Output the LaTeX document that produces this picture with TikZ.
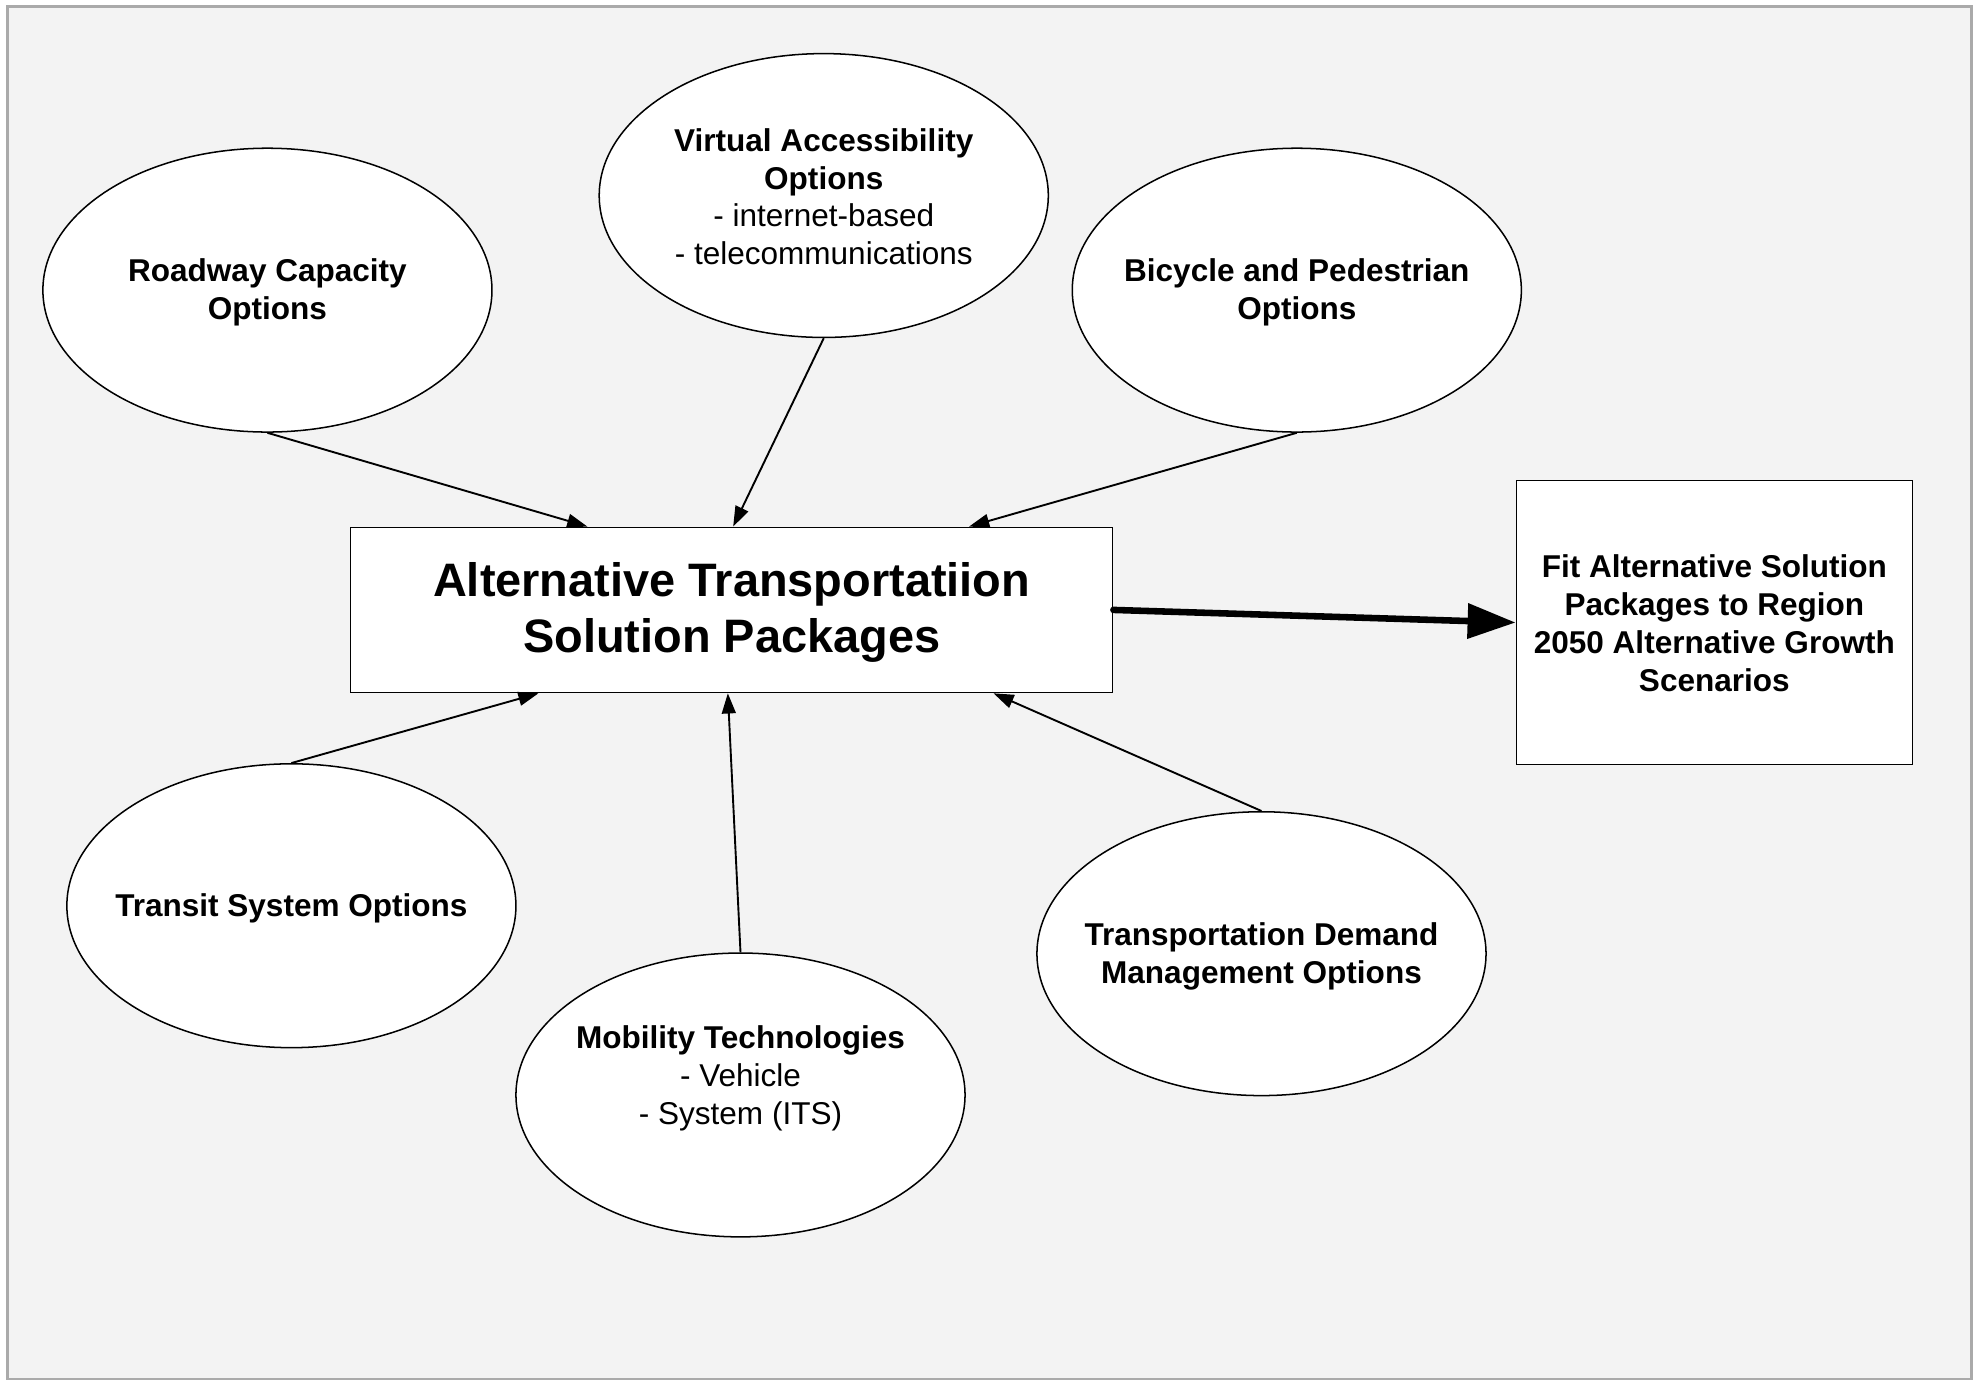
\documentclass[tikz,border=0pt]{standalone}
\usepackage{fontspec}
\setmainfont{Liberation Sans}
\usetikzlibrary{shapes.geometric,arrows.meta,calc}
\definecolor{bgc}{RGB}{243,243,243}
\definecolor{framec}{RGB}{170,170,170}
\begin{document}
\begin{tikzpicture}[x=0.5pt,y=-0.5pt,
  oval/.style={ellipse,draw,line width=0.6pt,fill=white,minimum width=178pt,minimum height=112.5pt,inner sep=0pt},
  lbl/.style={align=center,font=\fontsize{12.5}{15}\selectfont,inner sep=0pt},
  boxst/.style={draw,line width=0.6pt,fill=white,inner sep=0pt},
  conn/.style={line width=0.75pt,-{Triangle[length=8pt,width=5.5pt]}},
  bigconn/.style={line width=2.6pt,line cap=round,-{Triangle[length=19pt,width=13.5pt]}},
  ]
\useasboundingbox (0,0) rectangle (1568,1095);
\draw[fill=bgc,draw=framec,line width=1pt] (6,5) rectangle (1563,1093);

% ellipses
\node[oval] (road) at (212,230) {};
\node[lbl] (roadtxt) at (212,232) {\textbf{Roadway Capacity}\\\textbf{Options}};
\node[oval] (virt) at (653,155) {};
\node[lbl] (virttxt) at (653,156) {\textbf{Virtual Accessibility}\\\textbf{Options}\\- internet-based\\- telecommunications};
\node[oval] (bike) at (1028,230) {};
\node[lbl] (biketxt) at (1028,232) {\textbf{Bicycle and Pedestrian}\\\textbf{Options}};
\node[oval] (trans) at (231,718) {};
\node[lbl] (transtxt) at (231,720) {\textbf{Transit System Options}};
\node[oval] (mob) at (587,868) {};
\node[lbl] (mobtxt) at (587,855) {\textbf{Mobility Technologies}\\- Vehicle\\- System (ITS)};
\node[oval] (tdm) at (1000,756) {};
\node[lbl] (tdmtxt) at (1000,758) {\textbf{Transportation Demand}\\\textbf{Management Options}};

% boxes
\node[boxst,minimum width=302pt,minimum height=65.5pt] (main) at (580,483.5) {};
\node[align=center,inner sep=0pt,font=\fontsize{18.6}{22.5}\selectfont\bfseries] (maintxt) at (580,485.5) {Alternative Transportatiion\\Solution Packages};
\node[boxst,minimum width=157pt,minimum height=112.5pt] (fit) at (1359,493.5) {};
\node[lbl,font=\fontsize{12.5}{15}\selectfont\bfseries] (fittxt) at (1359,494) {Fit Alternative Solution\\Packages to Region\\2050 Alternative Growth\\Scenarios};

% connectors
\draw[conn] (road.south) -- ($(main.north west)!0.311!(main.north east)$);
\draw[conn] (virt.south) -- ($(main.north west)!0.502!(main.north east)$);
\draw[conn] (bike.south) -- ($(main.north west)!0.811!(main.north east)$);
\draw[conn] (trans.north) -- ($(main.south west)!0.247!(main.south east)$);
\draw[conn] (mob.north) -- ($(main.south west)!0.495!(main.south east)$);
\draw[conn] (tdm.north) -- ($(main.south west)!0.843!(main.south east)$);
\draw[bigconn] (main.east) -- (fit.west);
\end{tikzpicture}
\end{document}
